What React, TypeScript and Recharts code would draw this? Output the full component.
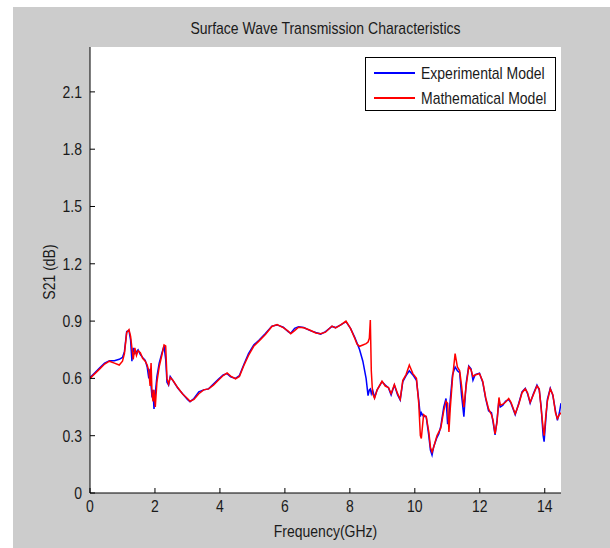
import React from 'react';
import { LineChart, Line, XAxis, YAxis, CartesianGrid } from 'recharts';

const FONT = "'Liberation Sans', Arial, sans-serif";
const TEXT = '#1a1a1a';
const FS = 14;
// glyphs are drawn a little taller than wide
const STRETCH = 1.2;

// frequency samples (GHz)
const freq = [
  0.00, 0.15, 0.30, 0.45, 0.60, 0.75, 0.90, 1.00, 1.06, 1.13,
  1.20, 1.25, 1.29, 1.33, 1.38, 1.43, 1.48, 1.55, 1.62, 1.70,
  1.76, 1.81, 1.85, 1.88, 1.91, 1.94, 1.97, 2.01, 2.06, 2.13,
  2.21, 2.28, 2.33, 2.37, 2.42, 2.47, 2.55, 2.70, 2.85, 3.00,
  3.08, 3.20, 3.35, 3.50, 3.65, 3.80, 3.95, 4.10, 4.22, 4.33,
  4.48, 4.60, 4.73, 4.88, 5.04, 5.20, 5.40, 5.60, 5.76, 5.95,
  6.10, 6.18, 6.30, 6.42, 6.58, 6.78, 6.95, 7.10, 7.25, 7.45,
  7.56, 7.72, 7.88, 8.02, 8.15, 8.22, 8.30, 8.40, 8.50, 8.56,
  8.60, 8.63, 8.66, 8.70, 8.76, 8.84, 8.99, 9.09, 9.19, 9.27,
  9.37, 9.47, 9.55, 9.63, 9.73, 9.83, 9.94, 10.05, 10.12, 10.17,
  10.20, 10.27, 10.35, 10.43, 10.48, 10.53, 10.58, 10.68, 10.74, 10.80,
  10.89, 10.96, 11.01, 11.05, 11.09, 11.16, 11.24, 11.31, 11.38, 11.44,
  11.51, 11.58, 11.66, 11.73, 11.79, 11.86, 11.99, 12.09, 12.18, 12.27,
  12.36, 12.41, 12.47, 12.53, 12.59, 12.63, 12.71, 12.79, 12.89, 12.96,
  13.09, 13.20, 13.30, 13.40, 13.47, 13.55, 13.65, 13.76, 13.83, 13.89,
  13.95, 13.98, 14.03, 14.08, 14.17, 14.25, 14.33, 14.39, 14.45, 14.50,
];

// measured S21 (dB)
const experimental = [
  0.605, 0.630, 0.655, 0.680, 0.693, 0.693, 0.700, 0.710, 0.740, 0.845,
  0.850, 0.800, 0.690, 0.760, 0.730, 0.740, 0.750, 0.725, 0.710, 0.695,
  0.660, 0.600, 0.650, 0.560, 0.500, 0.540, 0.440, 0.520, 0.610, 0.680,
  0.730, 0.770, 0.700, 0.580, 0.565, 0.610, 0.590, 0.550, 0.520, 0.490,
  0.478, 0.495, 0.530, 0.540, 0.545, 0.570, 0.595, 0.618, 0.625, 0.608,
  0.600, 0.615, 0.670, 0.730, 0.775, 0.800, 0.835, 0.874, 0.880, 0.868,
  0.845, 0.836, 0.862, 0.870, 0.866, 0.850, 0.840, 0.832, 0.845, 0.872,
  0.866, 0.880, 0.897, 0.862, 0.815, 0.785, 0.750, 0.690, 0.600, 0.510,
  0.540, 0.545, 0.520, 0.540, 0.500, 0.540, 0.583, 0.565, 0.550, 0.513,
  0.565, 0.513, 0.487, 0.583, 0.615, 0.640, 0.618, 0.590, 0.487, 0.400,
  0.420, 0.400, 0.400, 0.300, 0.225, 0.199, 0.242, 0.290, 0.310, 0.350,
  0.450, 0.495, 0.360, 0.400, 0.487, 0.618, 0.660, 0.640, 0.630, 0.510,
  0.400, 0.575, 0.665, 0.650, 0.590, 0.620, 0.627, 0.580, 0.495, 0.430,
  0.420, 0.370, 0.304, 0.380, 0.487, 0.450, 0.460, 0.480, 0.490, 0.470,
  0.410, 0.470, 0.530, 0.548, 0.520, 0.470, 0.520, 0.565, 0.540, 0.450,
  0.300, 0.269, 0.380, 0.490, 0.548, 0.510, 0.430, 0.380, 0.420, 0.470,
];

// model S21 (dB)
const mathematical = [
  0.600, 0.625, 0.650, 0.675, 0.690, 0.680, 0.670, 0.690, 0.730, 0.840,
  0.855, 0.820, 0.760, 0.700, 0.760, 0.720, 0.745, 0.735, 0.705, 0.690,
  0.670, 0.640, 0.560, 0.680, 0.520, 0.480, 0.540, 0.450, 0.580, 0.660,
  0.720, 0.775, 0.770, 0.600, 0.570, 0.605, 0.590, 0.552, 0.518, 0.495,
  0.480, 0.490, 0.520, 0.540, 0.545, 0.565, 0.590, 0.615, 0.628, 0.612,
  0.598, 0.610, 0.665, 0.720, 0.768, 0.795, 0.830, 0.872, 0.882, 0.866,
  0.848, 0.834, 0.850, 0.868, 0.865, 0.852, 0.838, 0.834, 0.842, 0.874,
  0.864, 0.880, 0.900, 0.862, 0.810, 0.780, 0.768, 0.775, 0.782, 0.790,
  0.810, 0.906, 0.640, 0.520, 0.496, 0.540, 0.585, 0.560, 0.552, 0.520,
  0.568, 0.520, 0.490, 0.590, 0.620, 0.670, 0.625, 0.600, 0.470, 0.300,
  0.286, 0.410, 0.400, 0.320, 0.240, 0.215, 0.240, 0.300, 0.320, 0.340,
  0.430, 0.480, 0.470, 0.320, 0.440, 0.600, 0.730, 0.660, 0.640, 0.560,
  0.450, 0.560, 0.660, 0.645, 0.610, 0.618, 0.625, 0.585, 0.500, 0.440,
  0.410, 0.380, 0.310, 0.370, 0.500, 0.460, 0.465, 0.475, 0.495, 0.475,
  0.415, 0.465, 0.525, 0.545, 0.525, 0.475, 0.515, 0.560, 0.545, 0.440,
  0.340, 0.300, 0.400, 0.480, 0.545, 0.515, 0.420, 0.390, 0.410, 0.420,
];

const xTicks = [0, 2, 4, 6, 8, 10, 12, 14];
const yTicks = [0, 0.3, 0.6, 0.9, 1.2, 1.5, 1.8, 2.1];

const series = [
  { key: 'exp', name: 'Experimental Model', color: '#0000ff' },
  { key: 'math', name: 'Mathematical Model', color: '#ff0000' },
];

const data = freq.map((f, i) => ({ f, exp: experimental[i], math: mathematical[i] }));

const fmtY = (v: number) => (v === 0 ? '0' : v.toFixed(1));

const Label = ({ x, y, anchor, children }: any) => (
  <text
    transform={`translate(${x},${y}) scale(1,${STRETCH})`}
    textAnchor={anchor}
    fontSize={FS}
    fontFamily={FONT}
    fill={TEXT}
  >
    {children}
  </text>
);

// MATLAB-style ticks: short marks pointing into the plot box
const BottomTick = (p: any) => (
  <g>
    <line x1={p.x} y1={p.y} x2={p.x} y2={p.y - 5} stroke="#000" />
    <Label x={p.x} y={p.y + 19} anchor="middle">{p.payload.value}</Label>
  </g>
);
const TopTick = (p: any) => <line x1={p.x} y1={p.y} x2={p.x} y2={p.y + 5} stroke="#000" />;
const LeftTick = (p: any) => (
  <g>
    <line x1={p.x} y1={p.y} x2={p.x + 5} y2={p.y} stroke="#000" />
    <Label x={p.x - 8} y={p.y + 6} anchor="end">{fmtY(p.payload.value)}</Label>
  </g>
);
const RightTick = (p: any) => <line x1={p.x} y1={p.y} x2={p.x - 5} y2={p.y} stroke="#000" />;

const tall = { transform: `scaleY(${STRETCH})` };

export default function App() {
  return (
    <div style={{ position: 'absolute', left: 0, top: 0, width: 610, height: 548, background: '#fff', fontFamily: FONT }}>
      <div style={{ position: 'absolute', left: 13, top: 7, width: 597, height: 541, background: '#cccccc' }} />

      <div style={{ position: 'absolute', left: 0, top: 0 }}>
        <LineChart width={610} height={548} data={data} margin={{ top: 47, right: 49, bottom: 0, left: 0 }}>
          <CartesianGrid horizontal={false} vertical={false} fill="#ffffff" fillOpacity={1} />
          <XAxis
            dataKey="f"
            type="number"
            domain={[0, 14.5]}
            ticks={xTicks}
            allowDataOverflow
            height={55}
            tickSize={0}
            tickMargin={0}
            stroke="#000"
            tick={BottomTick}
          />
          <XAxis
            xAxisId="top"
            orientation="top"
            dataKey="f"
            type="number"
            domain={[0, 14.5]}
            ticks={xTicks}
            allowDataOverflow
            height={0}
            tickSize={0}
            tickMargin={0}
            stroke="#000"
            tick={TopTick}
          />
          <YAxis
            type="number"
            domain={[0, 2.335]}
            ticks={yTicks}
            allowDataOverflow
            width={90}
            tickSize={0}
            tickMargin={0}
            stroke="#000"
            tick={LeftTick}
          />
          <YAxis
            yAxisId="right"
            orientation="right"
            type="number"
            domain={[0, 2.335]}
            ticks={yTicks}
            allowDataOverflow
            width={0}
            tickSize={0}
            tickMargin={0}
            stroke="#000"
            tick={RightTick}
          />
          {series.map((s) => (
            <Line
              key={s.key}
              dataKey={s.key}
              name={s.name}
              stroke={s.color}
              strokeWidth={1.5}
              dot={false}
              type="linear"
              isAnimationActive={false}
            />
          ))}
        </LineChart>
      </div>

      {/* title and axis labels */}
      <div style={{ position: 'absolute', left: 90, width: 471, top: 20, textAlign: 'center', fontSize: FS, color: TEXT, ...tall }}>
        Surface Wave Transmission Characteristics
      </div>
      <div style={{ position: 'absolute', left: 90, width: 471, top: 523, textAlign: 'center', fontSize: FS, color: TEXT, ...tall }}>
        Frequency(GHz)
      </div>
      <div
        style={{
          position: 'absolute', left: 49, top: 272, fontSize: FS, color: TEXT, whiteSpace: 'nowrap',
          transform: `translate(-50%, -50%) rotate(-90deg) scaleY(${STRETCH})`,
        }}
      >
        S21 (dB)
      </div>

      {/* legend */}
      <div
        style={{
          position: 'absolute', left: 365, top: 57, width: 189, height: 52, background: '#fff',
          border: '1px solid #000', fontSize: FS, color: TEXT,
        }}
      >
        {series.map((s, i) => (
          <div key={s.key} style={{ position: 'absolute', left: 0, top: 4 + i * 25, height: 22, display: 'flex', alignItems: 'center' }}>
            <div style={{ marginLeft: 8, width: 41, height: 1.5, background: s.color }} />
            <span style={{ marginLeft: 6, whiteSpace: 'nowrap', display: 'inline-block', ...tall }}>{s.name}</span>
          </div>
        ))}
      </div>
    </div>
  );
}
